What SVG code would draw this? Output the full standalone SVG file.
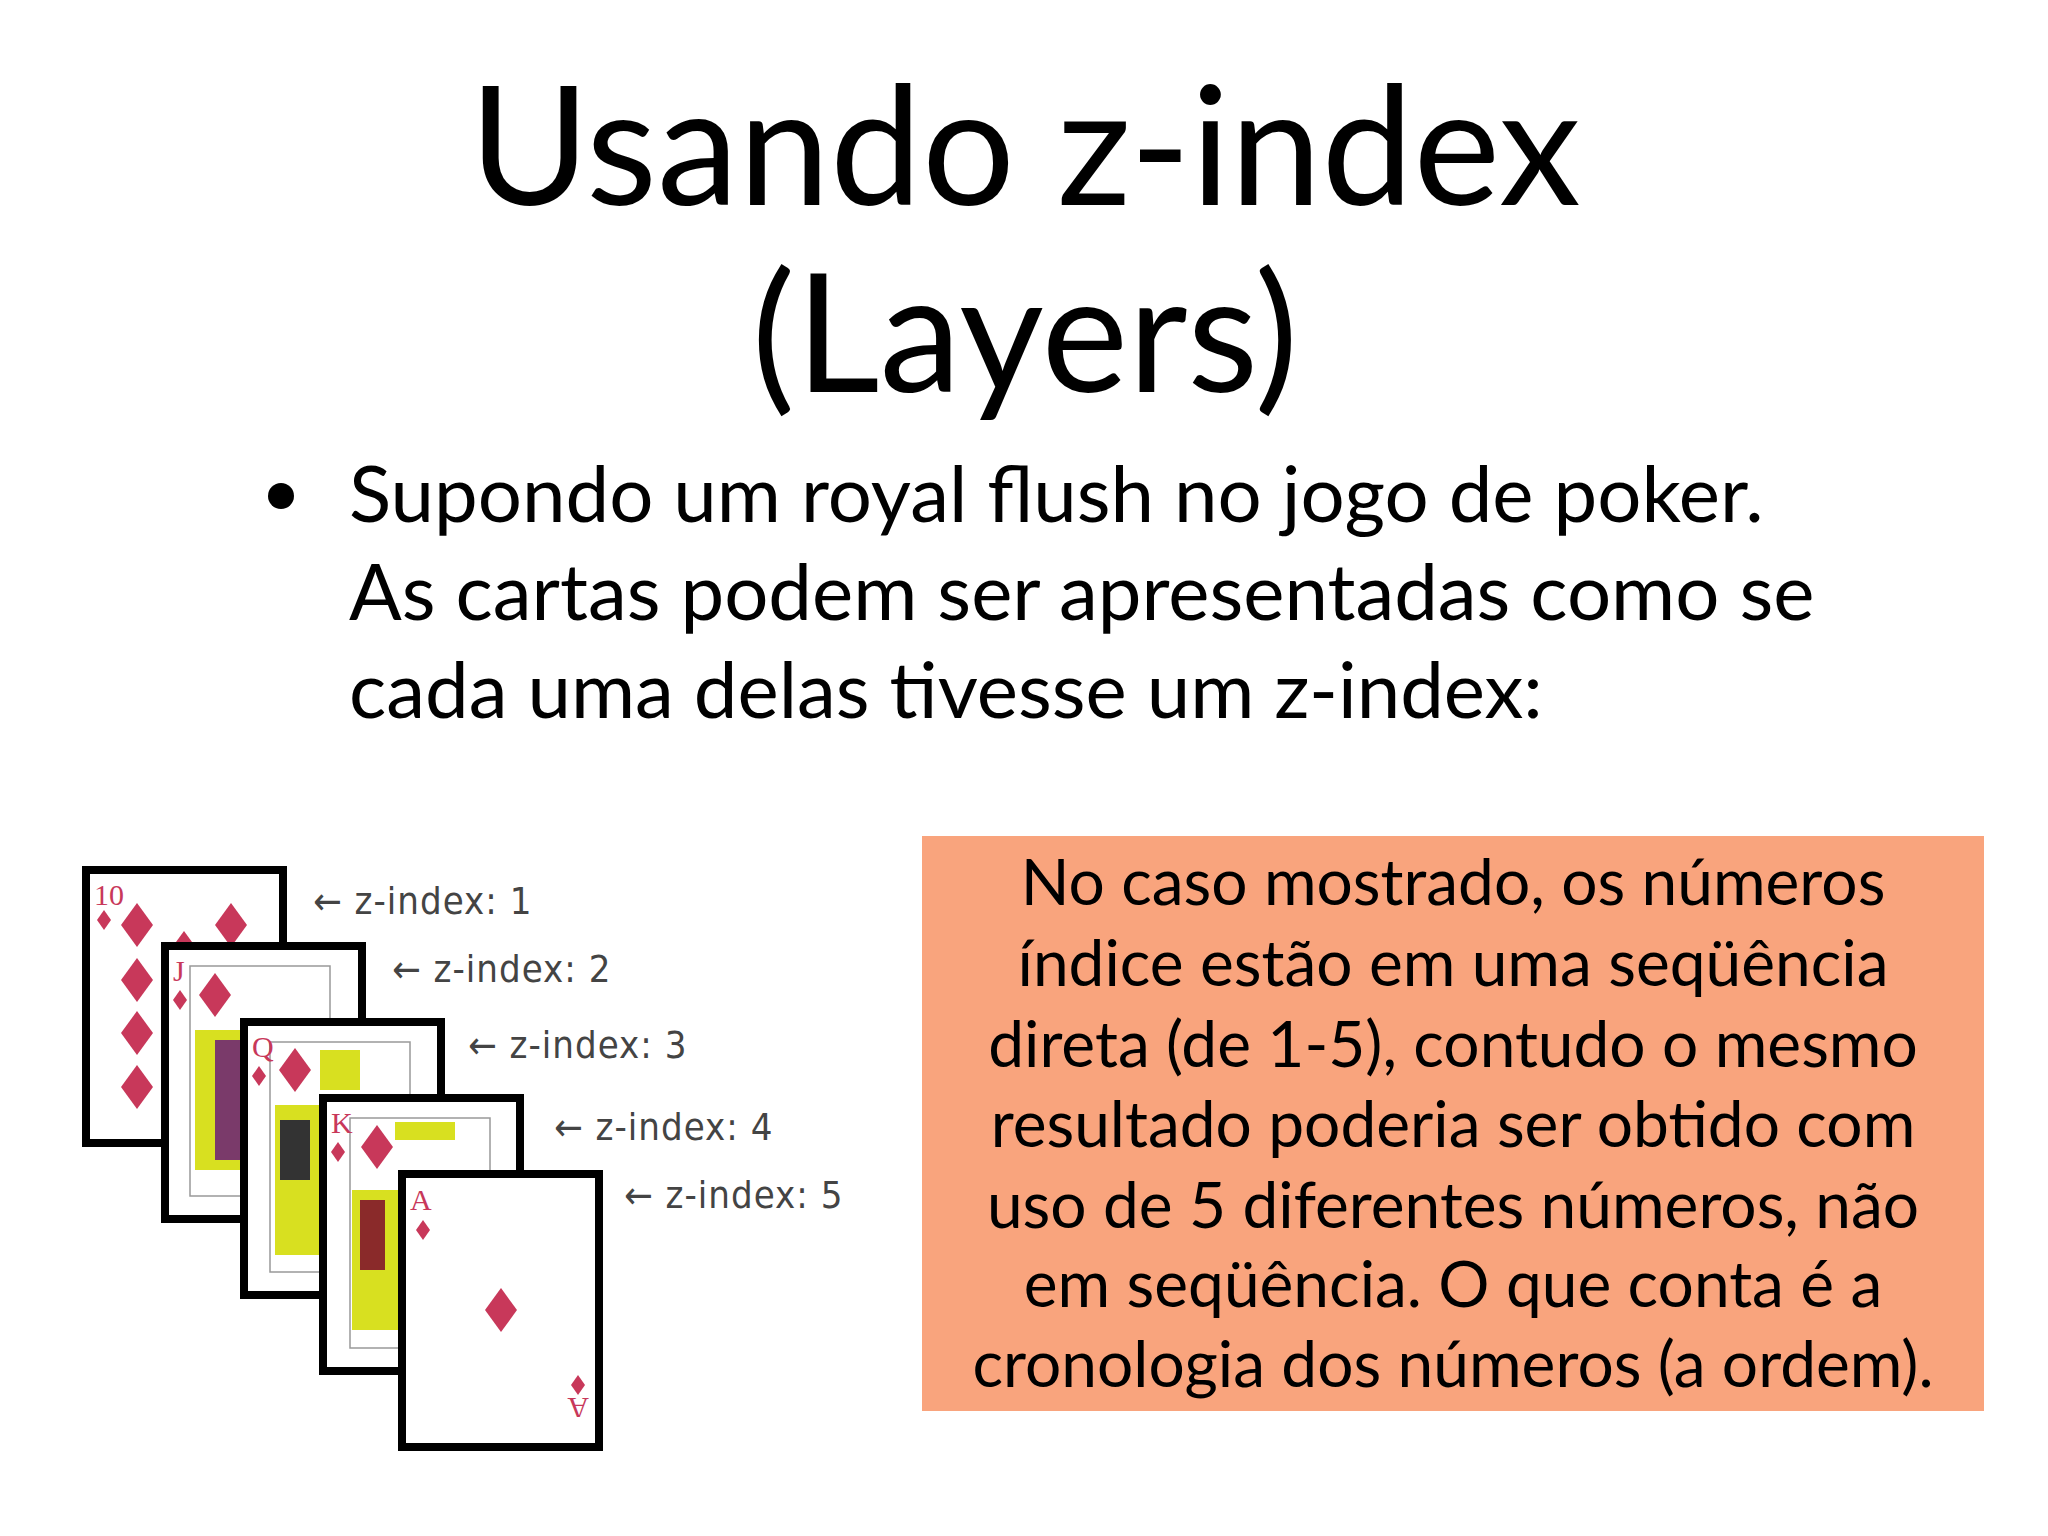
<svg xmlns="http://www.w3.org/2000/svg" width="2048" height="1536" viewBox="0 0 2048 1536">
<style>
.t{font-family:"Lato","Open Sans",sans-serif;fill:#000}
.card{fill:#fff;stroke:#000;stroke-width:8}
.lbl{font-family:"DejaVu Sans Condensed","DejaVu Sans",sans-serif;font-size:38px;fill:#444;letter-spacing:1px}
.r{fill:#c8385a}
.idx{font-family:"Liberation Serif",serif;font-size:30px;fill:#c8385a}
.face{fill:none;stroke:#999;stroke-width:1.5}
</style>
<defs>
<path id="d" d="M0,-22 L16,0 L0,22 L-16,0Z"/>
<path id="ds" d="M0,-10 L7,0 L0,10 L-7,0Z"/>
</defs>
<rect width="2048" height="1536" fill="#fff"/>
<g id="title">
<text class="t" x="1025" y="205" font-size="164" text-anchor="middle">Usando z-index</text>
<text class="t" x="1025" y="392" font-size="164" text-anchor="middle">(Layers)</text>
</g>
<g id="bullet">
<circle cx="281" cy="496" r="13" fill="#000"/>
<text class="t" font-size="78"><tspan x="349" y="522">Supondo um royal flush no jogo de poker.</tspan><tspan x="349" y="620">As cartas podem ser apresentadas como se</tspan><tspan x="349" y="718">cada uma delas tivesse um z-index:</tspan></text>
</g>
<g id="note">
<rect x="922" y="836" width="1062" height="575" fill="#f9a47d"/>
<text class="t" font-size="64" text-anchor="middle"><tspan x="1453" y="905">No caso mostrado, os números</tspan><tspan x="1453" y="986">índice estão em uma seqüência</tspan><tspan x="1453" y="1067">direta (de 1-5),  contudo o mesmo</tspan><tspan x="1453" y="1147">resultado poderia ser obtido com</tspan><tspan x="1453" y="1228">uso de 5 diferentes números, não</tspan><tspan x="1453" y="1307">em seqüência. O que conta é a</tspan><tspan x="1453" y="1387">cronologia dos números (a ordem).</tspan></text>
</g>
<g id="card1">
<rect class="card" x="86" y="870" width="197" height="273"/>
<text class="idx" x="94" y="905">10</text>
<use href="#ds" x="104" y="920" class="r"/>
<use href="#d" x="137" y="925" class="r"/><use href="#d" x="231" y="925" class="r"/>
<use href="#d" x="137" y="980" class="r"/><use href="#d" x="137" y="1033" class="r"/><use href="#d" x="137" y="1087" class="r"/>
<use href="#d" x="184" y="953" class="r"/>
</g>
<g id="card2">
<rect class="card" x="165" y="946" width="197" height="273"/>
<rect class="face" x="190" y="966" width="140" height="230"/>
<rect x="195" y="1030" width="60" height="140" fill="#d8e020"/>
<rect x="215" y="1040" width="25" height="120" fill="#7a3a6a"/>
<text class="idx" x="173" y="981">J</text>
<use href="#ds" x="180" y="1000" class="r"/>
<use href="#d" x="215" y="995" class="r"/>
</g>
<g id="card3">
<rect class="card" x="244" y="1022" width="197" height="273"/>
<rect class="face" x="270" y="1042" width="140" height="230"/>
<rect x="275" y="1105" width="60" height="150" fill="#d8e020"/>
<rect x="280" y="1120" width="30" height="60" fill="#333"/>
<rect x="320" y="1050" width="40" height="40" fill="#d8e020"/>
<text class="idx" x="252" y="1057">Q</text>
<use href="#ds" x="259" y="1076" class="r"/>
<use href="#d" x="295" y="1070" class="r"/>
</g>
<g id="card4">
<rect class="card" x="323" y="1098" width="197" height="273"/>
<rect class="face" x="350" y="1118" width="140" height="230"/>
<rect x="352" y="1190" width="50" height="140" fill="#d8e020"/>
<rect x="360" y="1200" width="25" height="70" fill="#8a2a2a"/>
<rect x="395" y="1122" width="60" height="18" fill="#d8e020"/>
<text class="idx" x="331" y="1133">K</text>
<use href="#ds" x="338" y="1152" class="r"/>
<use href="#d" x="377" y="1147" class="r"/>
</g>
<g id="card5">
<rect class="card" x="402" y="1174" width="197" height="273"/>
<text class="idx" x="410" y="1210">A</text>
<use href="#ds" x="423" y="1230" class="r"/>
<use href="#d" x="501" y="1310" class="r"/>
<use href="#ds" x="578" y="1385" class="r"/>
<text class="idx" transform="rotate(180 578 1408)" x="567" y="1418">A</text>
</g>
<g id="labels">
<text class="lbl" x="313" y="914">← z-index: 1</text>
<text class="lbl" x="392" y="982">← z-index: 2</text>
<text class="lbl" x="468" y="1058">← z-index: 3</text>
<text class="lbl" x="554" y="1140">← z-index: 4</text>
<text class="lbl" x="624" y="1208">← z-index: 5</text>
</g>
</svg>
